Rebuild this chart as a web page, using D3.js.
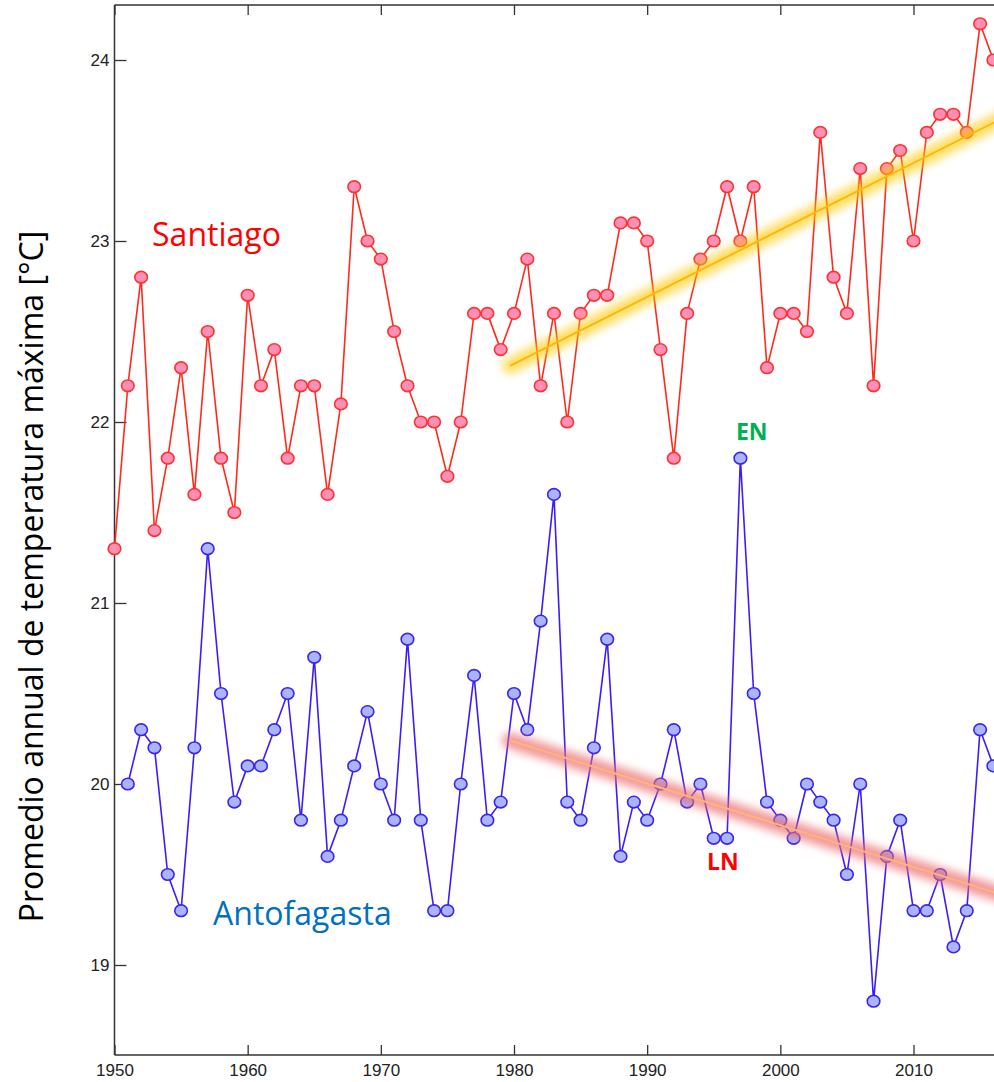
<!DOCTYPE html>
<html>
<head>
<meta charset="utf-8">
<script src="https://cdn.jsdelivr.net/npm/d3@7"></script>
<style>
  html, body { margin: 0; padding: 0; background: #fff; overflow: hidden; }
  svg { display: block; }
</style>
</head>
<body>
<script>
// ---------- DATA ----------
const santiagoYears = d3.range(1950, 2017);
const santiago = [21.3, 22.2, 22.8, 21.4, 21.8, 22.3, 21.6, 22.5, 21.8, 21.5,
  22.7, 22.2, 22.4, 21.8, 22.2, 22.2, 21.6, 22.1, 23.3, 23.0,
  22.9, 22.5, 22.2, 22.0, 22.0, 21.7, 22.0, 22.6, 22.6, 22.4,
  22.6, 22.9, 22.2, 22.6, 22.0, 22.6, 22.7, 22.7, 23.1, 23.1,
  23.0, 22.4, 21.8, 22.6, 22.9, 23.0, 23.3, 23.0, 23.3, 22.3,
  22.6, 22.6, 22.5, 23.6, 22.8, 22.6, 23.4, 22.2, 23.4, 23.5,
  23.0, 23.6, 23.7, 23.7, 23.6, 24.2, 24.0];
const antofagastaYears = d3.range(1951, 2017);
const antofagasta = [20.0, 20.3, 20.2, 19.5, 19.3, 20.2, 21.3, 20.5, 19.9,
  20.1, 20.1, 20.3, 20.5, 19.8, 20.7, 19.6, 19.8, 20.1, 20.4,
  20.0, 19.8, 20.8, 19.8, 19.3, 19.3, 20.0, 20.6, 19.8, 19.9,
  20.5, 20.3, 20.9, 21.6, 19.9, 19.8, 20.2, 20.8, 19.6, 19.9,
  19.8, 20.0, 20.3, 19.9, 20.0, 19.7, 19.7, 21.8, 20.5, 19.9,
  19.8, 19.7, 20.0, 19.9, 19.8, 19.5, 20.0, 18.8, 19.6, 19.8,
  19.3, 19.3, 19.5, 19.1, 19.3, 20.3, 20.1];
const santiagoTrendYears = [1979.7, 2017.0];
const santiagoTrend = [22.31, 23.69];
const antofagastaTrendYears = [1979.7, 2017.0];
const antofagastaTrend = [20.24, 19.38];
const xTicks = [1950, 1960, 1970, 1980, 1990, 2000, 2010];
const yTicks = [19, 20, 21, 22, 23, 24];
const yTitle = "Promedio annual de temperatura máxima [°C]";
const labelTexts = ["Santiago", "Antofagasta", "EN", "LN"];
const labelYears = [1952.82, 1957.40, 1996.67, 1994.49];
const labelValues = [22.97, 19.22, 21.90, 19.525];

// ---------- LAYOUT / STYLE ----------
const W = 994, H = 1082;
const svg = d3.select("body").append("svg").attr("width", W).attr("height", H);

const x = d3.scaleLinear().domain([1950, 2010]).range([114.5, 913.5]);
const y = d3.scaleLinear().domain([19, 24]).range([965, 60]);
const frameTop = 5, frameBottom = 1055, frameLeft = 114.5;

const defs = svg.append("defs");
defs.append("filter").attr("id", "glow").attr("x", "-10%").attr("y", "-60%")
  .attr("width", "120%").attr("height", "220%")
  .append("feGaussianBlur").attr("stdDeviation", 4);

// frame
const axisColor = "#333";
svg.append("line").attr("x1", frameLeft).attr("x2", W + 5).attr("y1", frameTop).attr("y2", frameTop)
  .attr("stroke", axisColor).attr("stroke-width", 1.5);
svg.append("line").attr("x1", frameLeft).attr("x2", W + 5).attr("y1", frameBottom).attr("y2", frameBottom)
  .attr("stroke", axisColor).attr("stroke-width", 1.5);

// bottom axis (ticks inward)
const xAxisB = d3.axisBottom(x).tickValues(xTicks).tickFormat(d3.format("d"))
  .tickSizeInner(-10).tickSizeOuter(0).tickPadding(9);
const gB = svg.append("g").attr("transform", `translate(0,${frameBottom})`).call(xAxisB);
gB.select(".domain").remove();
gB.selectAll(".tick line").attr("stroke", axisColor).attr("stroke-width", 1.3);
gB.selectAll(".tick text").attr("font-family", "'Liberation Sans', Arial, sans-serif")
  .attr("font-size", 17).attr("fill", "#222");

// top axis ticks (inward)
const xAxisT = d3.axisTop(x).tickValues(xTicks).tickFormat("").tickSizeInner(-10).tickSizeOuter(0);
const gT = svg.append("g").attr("transform", `translate(0,${frameTop})`).call(xAxisT);
gT.select(".domain").remove();
gT.selectAll(".tick line").attr("stroke", axisColor).attr("stroke-width", 1.3);

// left axis
const yAxis = d3.axisLeft(y).tickValues(yTicks).tickFormat(d3.format("d"))
  .tickSizeInner(-12).tickSizeOuter(0).tickPadding(5);
const gL = svg.append("g").attr("transform", `translate(${frameLeft},0)`).call(yAxis);
gL.select(".domain").remove();
gL.selectAll(".tick line").attr("stroke", axisColor).attr("stroke-width", 1.3);
gL.selectAll(".tick text").attr("font-family", "'Liberation Sans', Arial, sans-serif")
  .attr("font-size", 17).attr("fill", "#222");
svg.append("line").attr("x1", frameLeft).attr("x2", frameLeft).attr("y1", frameTop).attr("y2", frameBottom)
  .attr("stroke", axisColor).attr("stroke-width", 1.5);

// y title
svg.append("text")
  .attr("transform", `translate(43,${(230 + 923) / 2}) rotate(-90)`)
  .attr("text-anchor", "middle")
  .attr("font-family", "'Open Sans', sans-serif")
  .attr("font-size", 32).attr("fill", "#000")
  .text(yTitle);

// series
function drawSeries(years, values, lineColor, fill, stroke) {
  const pts = years.map((yr, i) => [yr, values[i]]);
  const line = d3.line().x(d => x(d[0])).y(d => y(d[1]));
  svg.append("path").datum(pts).attr("d", line).attr("fill", "none")
    .attr("stroke", lineColor).attr("stroke-width", 1.6).attr("stroke-linejoin", "round");
  svg.append("g").selectAll("ellipse").data(pts).join("ellipse")
    .attr("cx", d => x(d[0])).attr("cy", d => y(d[1]))
    .attr("rx", 6.3).attr("ry", 5.8)
    .attr("fill", fill).attr("stroke", stroke).attr("stroke-width", 1.6);
}
drawSeries(santiagoYears, santiago, "#ff2a1a", "#ff8fb4", "#ff3030");
drawSeries(antofagastaYears, antofagasta, "#3a1cff", "#a9b6ff", "#3a24f0");

// trend lines
function drawTrend(years, values, glowColor, glowOpacity, coreColor) {
  const pts = years.map((yr, i) => [yr, values[i]]);
  const line = d3.line().x(d => x(d[0])).y(d => y(d[1]));
  svg.append("path").datum(pts).attr("d", line).attr("fill", "none")
    .attr("stroke", glowColor).attr("stroke-width", 16).attr("stroke-linecap", "round")
    .attr("opacity", glowOpacity).attr("filter", "url(#glow)");
  svg.append("path").datum(pts).attr("d", line).attr("fill", "none")
    .attr("stroke", coreColor).attr("stroke-width", 2);
}
drawTrend(santiagoTrendYears, santiagoTrend, "#ffc800", 0.6, "#ffb800");
drawTrend(antofagastaTrendYears, antofagastaTrend, "#ec6e6e", 0.7, "#ffb37a");

// labels
const labelStyles = [
  {color: "#ff0000", size: 32, weight: 400},
  {color: "#0070c0", size: 32, weight: 400},
  {color: "#00b050", size: 23, weight: 700},
  {color: "#ff0000", size: 23, weight: 700}
];
svg.append("g").selectAll("text").data(labelTexts).join("text")
  .attr("x", (d, i) => x(labelYears[i]))
  .attr("y", (d, i) => y(labelValues[i]))
  .attr("font-family", "'Open Sans', sans-serif")
  .attr("font-size", (d, i) => labelStyles[i].size)
  .attr("font-weight", (d, i) => labelStyles[i].weight)
  .attr("fill", (d, i) => labelStyles[i].color)
  .text(d => d);
</script>
</body>
</html>
